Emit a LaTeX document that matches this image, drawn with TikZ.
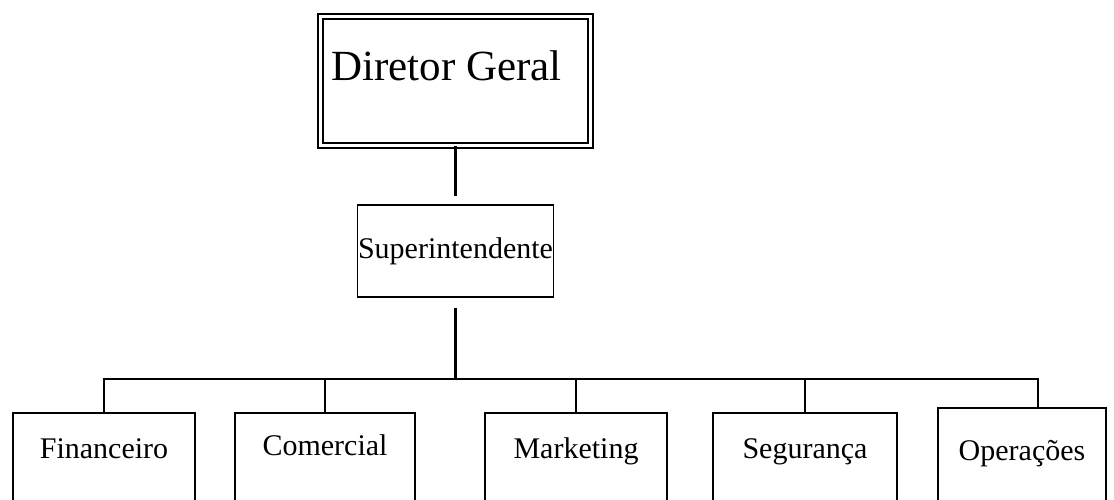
\documentclass[tikz,border=0pt]{standalone}
\usepackage{fontspec}
\setmainfont{Liberation Serif}
\tikzset{
  box/.style={draw, line width=0.8pt, inner sep=0pt},
  unitbox/.style={box, anchor=north, font=\fontsize{15}{18}\selectfont, text depth=51pt},
  link/.style={line width=0.8pt},
  stem/.style={line width=1.3pt}
}

\begin{document}
\begin{tikzpicture}[x=0.5pt, y=-0.5pt]
    \useasboundingbox (0,0) rectangle (1114,499);
    \clip (0,0) rectangle (1114,499);

    % top of the chart
    \node [box, double, double distance=1.6pt, line width=0.8pt,
           minimum width=135pt, minimum height=64.5pt] (dir) at (455.5,81) {};
    \node [anchor=base west, inner sep=0pt, font=\fontsize{21.5}{26}\selectfont] (dirtext) at (331,80) {Diretor Geral};

    \node [box, minimum width=98pt, minimum height=46pt, font=\fontsize{15}{18}\selectfont] (sup) at (455.5,251) {Superintendente};

    \draw [stem, shorten >=4pt] (dir.south -| sup.north) -- (sup.north);

    % departments
    \foreach \x/\y/\h/\w/\name/\lbl in {104/412/23/91/fin/Financeiro, 325/412/21.5/90/com/Comercial,
                                       576/412/23/91/mkt/Marketing, 805/412/23/92/seg/Segurança,
                                       1022/407/26.5/84/ope/Operações}
        \node [unitbox, minimum width=\w pt, text height=\h pt] (\name) at (\x,\y) {\lbl};

    \coordinate (bus) at (455.5,379);
    \draw [stem, shorten <=5pt] (sup.south) -- (bus);

    \foreach \name in {fin, com, mkt, seg}
        \draw [link] (bus) -| (\name.north);
    \draw [link] (bus) -| ([xshift=8pt]ope.north);

\end{tikzpicture}
\end{document}
